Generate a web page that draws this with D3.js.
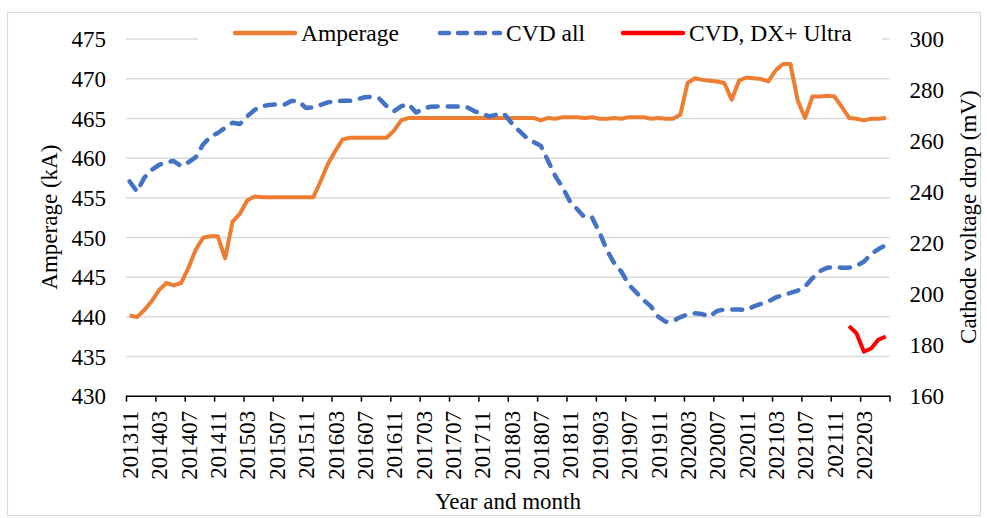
<!DOCTYPE html>
<html>
<head>
<meta charset="utf-8">
<script src="https://cdn.jsdelivr.net/npm/d3@7"></script>
<style>
  body { margin: 0; background: #fff; }
  svg text { font-family: "Liberation Serif", "Times New Roman", Times, "DejaVu Serif", serif; fill: #000; }
</style>
</head>
<body>
<svg width="987" height="518"></svg>
<script>
// months 201311 .. 202206
let months = [];
for (let y = 2013, m = 11; y * 100 + m <= 202206; m++) {
    if (m > 12) { m = 1; y++; }
    months.push(String(y * 100 + m));
}

let amperage = [
    440.1, 439.9, 440.8, 441.9, 443.3, 444.2, 443.9, 444.2, 446.1, 448.4,
    449.9, 450.1, 450.1, 447.3, 451.9, 452.9, 454.6, 455.1, 455.0, 455.0,
    455.0, 455.0, 455.0, 455.0, 455.0, 455.0, 457.0, 459.2, 460.8, 462.3,
    462.5, 462.5, 462.5, 462.5, 462.5, 462.5, 463.4, 464.7, 465.0, 465.0,
    465.0, 465.0, 465.0, 465.0, 465.0, 465.0, 465.0, 465.0, 465.0, 465.0,
    465.0, 465.0, 465.0, 465.0, 465.0, 465.0, 464.7, 465.0, 464.9, 465.1,
    465.1, 465.1, 465.0, 465.1, 464.9, 464.9, 465.0, 464.9, 465.1, 465.1,
    465.1, 464.9, 465.0, 464.9, 464.9, 465.4, 469.4, 470.0, 469.8, 469.7,
    469.6, 469.4, 467.3, 469.7, 470.1, 470.0, 469.9, 469.6, 471.0, 471.8,
    471.8, 467.2, 465.0, 467.7, 467.7, 467.8, 467.7, 466.4, 465.0, 464.9,
    464.7, 464.9, 464.9, 465.0
];

let cvdAll = [
    244, 240, 245.5, 248.5, 250.5, 251.5, 252, 250, 251.5, 253.5,
    258.5, 261.5, 263, 265, 267, 266.5, 269.5, 272, 273.5, 274,
    274.2, 274, 275.5, 275.5, 272.8, 273, 274, 275, 275.5, 275.6,
    275.6, 276.2, 277, 277.2, 276.5, 273.5, 271.5, 273.5, 274.3, 271,
    272.5, 273.3, 273.4, 273.4, 273.4, 273.3, 273, 271.5, 270.5, 269.5,
    270.2, 270.5, 267, 264, 261.3, 259.5, 258, 252, 246, 241.5,
    236, 233, 229.8, 229.8, 224, 217, 212, 208.5, 203.5, 200.5,
    197.5, 195, 191, 189, 189.2, 190.8, 191.8, 192.3, 192, 191,
    193.2, 193.8, 193.8, 193.8, 193.5, 195, 196, 197, 198.5, 199.5,
    200.3, 201.2, 202.8, 206, 208.8, 210.2, 210.4, 210.2, 210.2, 211,
    212.5, 215.5, 217.5, 219
];

let ultraMonths = ["202201", "202202", "202203", "202204", "202205", "202206"];
let cvdUltra = [187.3, 184.5, 177.3, 178.5, 182, 183.2];

let leftTicks = [430, 435, 440, 445, 450, 455, 460, 465, 470, 475];
let rightTicks = [160, 180, 200, 220, 240, 260, 280, 300];
let labelMonths = months.filter((d, i) => i % 4 === 0);

let svg = d3.select("svg");
let plotLeft = 126, plotRight = 889.5, plotTop = 38.6, plotBottom = 395.7;
let serif = "'Liberation Serif', 'Times New Roman', Times, 'DejaVu Serif', serif";

// frame
svg.append("rect")
    .attr("x", 7.5).attr("y", 12.5).attr("width", 973).attr("height", 503)
    .attr("fill", "none").attr("stroke", "#d9d9d9").attr("stroke-width", 1.2);

let x = d3.scaleBand().domain(months).range([plotLeft, plotRight]);
let xc = d => x(d) + x.bandwidth() / 2;
let xi = d3.scaleLinear().domain([0, months.length]).range([plotLeft, plotRight]);
let yL = d3.scaleLinear().domain([430, 475]).range([plotBottom, plotTop]);
let yR = d3.scaleLinear().domain([160, 300]).range([plotBottom, plotTop]);

// gridlines
svg.append("g")
    .attr("transform", `translate(${plotLeft},0)`)
    .call(d3.axisLeft(yL).tickValues(leftTicks.slice(1)).tickSize(-(plotRight - plotLeft)).tickFormat(""))
    .call(g => g.select(".domain").remove())
    .call(g => g.selectAll("line").attr("stroke", "#d9d9d9").attr("stroke-width", 1.5));

// left axis labels
svg.append("g")
    .attr("transform", `translate(${plotLeft},0)`)
    .call(d3.axisLeft(yL).tickValues(leftTicks).tickSize(0).tickPadding(20))
    .attr("font-family", serif).attr("font-size", 23)
    .call(g => g.select(".domain").remove())
    .call(g => g.selectAll("text").attr("dy", "0.36em"));

// right axis labels
svg.append("g")
    .attr("transform", `translate(${plotRight},0)`)
    .call(d3.axisRight(yR).tickValues(rightTicks).tickSize(0).tickPadding(20))
    .attr("font-family", serif).attr("font-size", 23)
    .call(g => g.select(".domain").remove())
    .call(g => g.selectAll("text").attr("dy", "0.36em"));

// x axis: line + tick marks at group boundaries
svg.append("g")
    .attr("transform", `translate(0,${plotBottom})`)
    .call(d3.axisBottom(xi).tickValues(d3.range(0, months.length + 1, 4)).tickSize(6).tickSizeOuter(0).tickFormat(""))
    .call(g => g.selectAll("line, path").attr("stroke", "#000").attr("stroke-width", 1.5));

// x labels
svg.append("g")
    .attr("transform", `translate(0,${plotBottom})`)
    .call(d3.axisBottom(x).tickValues(labelMonths).tickSize(0).tickPadding(0))
    .attr("font-family", serif).attr("font-size", 23)
    .call(g => g.select(".domain").remove())
    .call(g => g.selectAll("text")
        .attr("text-anchor", "end")
        .attr("transform", "rotate(-90)")
        .attr("x", -15).attr("y", 0).attr("dy", "0.36em"));

// lines
let lineL = d3.line().x((d, i) => xc(months[i])).y(d => yL(d));
let lineR = d3.line().x((d, i) => xc(months[i])).y(d => yR(d));

svg.append("path").datum(amperage)
    .attr("d", lineL).attr("fill", "none")
    .attr("stroke", "#ED7D31").attr("stroke-width", 4).attr("stroke-linejoin", "round");

svg.append("path").datum(cvdAll)
    .attr("d", lineR).attr("fill", "none")
    .attr("stroke", "#4472C4").attr("stroke-width", 4.5)
    .attr("stroke-dasharray", "10,10").attr("stroke-linecap", "round").attr("stroke-linejoin", "round");

svg.append("path").datum(cvdUltra)
    .attr("d", d3.line().x((d, i) => xc(ultraMonths[i])).y(d => yR(d)))
    .attr("fill", "none").attr("stroke", "#FF0000").attr("stroke-width", 4).attr("stroke-linejoin", "round");

// axis titles
let titles = svg.append("g").attr("font-family", serif).attr("font-size", 23);

titles.append("text")
    .attr("transform", `translate(57,${(plotTop + plotBottom) / 2}) rotate(-90)`)
    .attr("text-anchor", "middle")
    .text("Amperage  (kA)");

titles.append("text")
    .attr("transform", `translate(976,${(plotTop + plotBottom) / 2}) rotate(-90)`)
    .attr("text-anchor", "middle")
    .text("Cathode voltage drop (mV)");

titles.append("text")
    .attr("x", 508).attr("y", 509)
    .attr("text-anchor", "middle")
    .text("Year and month");

// legend
let legend = [
    { name: "Amperage", color: "#ED7D31", dash: null, x0: 233 },
    { name: "CVD all", color: "#4472C4", dash: "9,9", x0: 438 },
    { name: "CVD, DX+ Ultra", color: "#FF0000", dash: null, x0: 621 }
];
svg.append("rect").attr("x", 198).attr("y", 18).attr("width", 684).attr("height", 32).attr("fill", "#fff");
let lg = svg.append("g").attr("font-family", serif).attr("font-size", 23.5)
    .selectAll("g").data(legend).enter().append("g");
lg.append("line")
    .attr("x1", d => d.x0 + 2).attr("x2", d => d.x0 + 62)
    .attr("y1", 33).attr("y2", 33)
    .attr("stroke", d => d.color).attr("stroke-width", 4.5)
    .attr("stroke-linecap", "round")
    .attr("stroke-dasharray", d => d.dash);
lg.append("text")
    .attr("x", d => d.x0 + 68).attr("y", 40.5)
    .text(d => d.name);
</script>
</body>
</html>
